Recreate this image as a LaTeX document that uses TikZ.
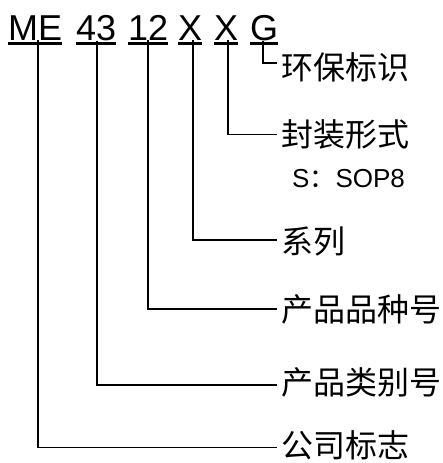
\documentclass[tikz,border=0pt]{standalone}
\usepackage{fontspec}
\setmainfont{Liberation Sans}
\newfontfamily\cjk{Noto Sans CJK SC}
\tikzset{
  seg/.style={inner sep=0pt, anchor=base west, font=\fontsize{36}{40}\selectfont},
  lab/.style={inner xsep=4.5pt, inner ysep=0pt, anchor=west, font=\cjk\fontsize{32}{36}\selectfont},
  ul/.style={line width=2.4pt},
  conn/.style={line width=1.5pt},
}
\begin{document}
\begin{tikzpicture}[x=1pt,y=-1pt]
\useasboundingbox (0,0) rectangle (443,463);
% code segments
\node[seg] (ME) at (8,40) {ME};
\node[seg] (F43) at (76,40) {43};
\node[seg] (F12) at (128,40) {12};
\node[seg] (XA) at (178,40) {X};
\node[seg] (XB) at (214,40) {X};
\node[seg] (G) at (250,40) {G};
\foreach \n in {ME,F43,F12,XA,XB,G}
  \draw[ul] ([yshift=-3.5pt]\n.base west) -- ([yshift=-3.5pt]\n.base east);
% labels
\node[lab] (lG) at (277,67.5) {环保标识};
\node[lab] (lXB) at (277,134.5) {封装形式};
\node[inner sep=0pt, anchor=base west, font=\fontsize{26}{30}\selectfont] (sop) at (292,187) {S{\cjk ：}SOP8};
\node[lab] (lXA) at (277,241) {系列};
\node[lab] (l12) at (277,309) {产品品种号};
\node[lab] (l43) at (277,382) {产品类别号};
\node[lab] (lME) at (277,445.5) {公司标志};
% connectors
\draw[conn] ([xshift=-1pt]G.south) |- ([yshift=4.5pt]lG.west);
\draw[conn] ([xshift=2pt]XB.south) |- (lXB.west);
\draw[conn] ([xshift=3pt]XA.south) |- ([yshift=1pt]lXA.west);
\draw[conn] (F12.south) |- (l12.west);
\draw[conn] ([xshift=1pt]F43.south) |- ([yshift=-3pt]l43.west);
\draw[conn] ([xshift=3pt]ME.south) |- ([yshift=-2pt]lME.west);
\end{tikzpicture}
\end{document}
